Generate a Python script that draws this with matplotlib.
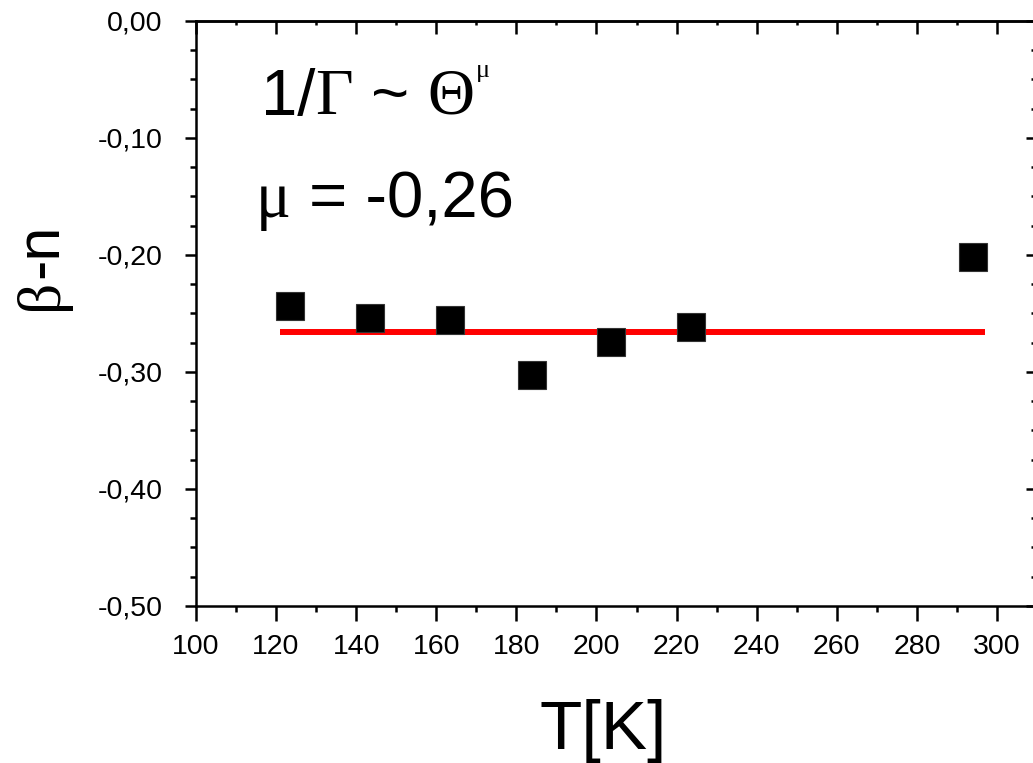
import matplotlib
matplotlib.use("Agg")
import matplotlib.pyplot as plt
from matplotlib.ticker import MultipleLocator, FuncFormatter

plt.rcParams["font.family"] = ["Liberation Sans", "DejaVu Sans"]

# beta - n vs temperature
T = [123.6, 143.5, 163.5, 183.8, 203.7, 223.7, 294.0]
beta_n = [-0.244, -0.254, -0.256, -0.303, -0.274, -0.2615, -0.202]
fit_T = [121, 297]
fit_level = sum(beta_n[:6]) / 6          # ~ -0.265, the mu from the fit

SERIF = ["Liberation Serif", "DejaVu Serif"]
LW = 1.8
BIG = 47


def comma(v, _):
    s = f"{v:.2f}".replace(".", ",")
    return "0,00" if s == "-0,00" else s


fig = plt.figure(figsize=(10.33, 7.63), dpi=100)
ax = fig.add_axes([0.1897, 0.2058, 0.8142, 0.7667])

ax.plot(fit_T, [fit_level, fit_level], color="#ff0000", lw=4.3, solid_capstyle="butt", zorder=2)
ax.plot(T, beta_n, "s", color="black", ms=20, mec="#333333", mew=0.8, ls="none", zorder=3)

ax.set_xlim(100, 310)
ax.set_ylim(-0.5, 0.0)
ax.xaxis.set_major_locator(MultipleLocator(20))
ax.xaxis.set_minor_locator(MultipleLocator(10))
ax.yaxis.set_major_locator(MultipleLocator(0.1))
ax.yaxis.set_minor_locator(MultipleLocator(0.025))
ax.yaxis.set_major_formatter(FuncFormatter(comma))
ax.xaxis.set_major_formatter(FuncFormatter(lambda v, _: f"{v:.0f}"))

for s in ax.spines.values():
    s.set_linewidth(LW)
ax.tick_params(which="both", direction="out", width=LW, labelsize=20.5, top=False, right=False)
ax.tick_params(axis="y", which="major", length=8, pad=16)
ax.tick_params(axis="y", which="minor", length=4.5)
ax.tick_params(axis="x", which="major", length=11, pad=9)
ax.tick_params(axis="x", which="minor", length=4.5)

# inward ticks on top and right
top = ax.secondary_xaxis("top")
top.xaxis.set_major_locator(MultipleLocator(20))
top.xaxis.set_minor_locator(MultipleLocator(10))
top.tick_params(which="both", direction="in", width=LW, labeltop=False)
top.tick_params(which="major", length=9)
top.tick_params(which="minor", length=3)
right = ax.secondary_yaxis("right")
right.yaxis.set_major_locator(MultipleLocator(0.1))
right.yaxis.set_minor_locator(MultipleLocator(0.025))
right.tick_params(which="both", direction="in", width=LW, labelright=False)
right.tick_params(which="major", length=8)
right.tick_params(which="minor", length=4)
for sec in (top, right):
    for s in sec.spines.values():
        s.set_linewidth(LW)

fig.text(603 / 1033, 1 - 749 / 763, "T[K]", fontsize=50, ha="center", va="baseline")

# y label: serif beta, sans "-n"
yl = fig.text(42 / 1033, 1 - 294 / 763, "β", fontsize=44, rotation=90, ha="center", va="center",
              family=SERIF)
ax.annotate("-n", xy=(0.5, 1), xycoords=yl, fontsize=44, rotation=90, ha="center", va="bottom",
            annotation_clip=False)

# 1/Γ ~ Θ^μ  and  μ = -0,26, pieced together so Greek letters use a serif face
t = ax.text(0.077, 1 - (115 - 21) / 585, "1/", transform=ax.transAxes, fontsize=BIG, va="baseline")
for txt, fam in [("Γ", SERIF), (" ~ ", None), ("Θ", SERIF)]:
    kw = {"family": fam} if fam else {}
    t = ax.annotate(txt, xy=(1, 0), xycoords=t, fontsize=BIG, va="bottom", **kw)
ax.annotate("μ", xy=(1, 1), xycoords=t, xytext=(1, 6), textcoords="offset points",
            fontsize=19, va="top", family=SERIF)

t = ax.text(0.071, 1 - (217 - 21) / 585, "μ", transform=ax.transAxes, fontsize=BIG, va="baseline",
            family=SERIF)
ax.annotate(" = -0,26", xy=(1, 0), xycoords=t, fontsize=BIG, va="bottom")

fig.savefig("out.png", dpi=100)
